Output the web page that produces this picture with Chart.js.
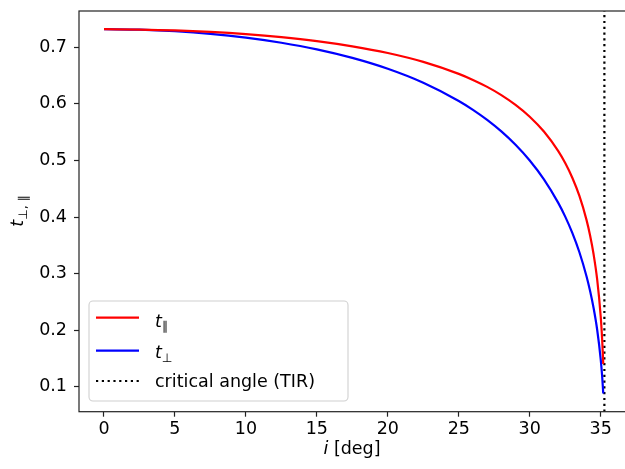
<!DOCTYPE html>
<html lang="en">
<head>
<meta charset="UTF-8">
<title>Transmission coefficients</title>
<script src="https://cdn.jsdelivr.net/npm/chart.js@4.4.0/dist/chart.umd.min.js"></script>
<style>
  html, body { margin: 0; padding: 0; overflow: hidden; background: #fff; }
  #wrap { position: absolute; left: 0; top: 0; width: 632px; height: 469px; }
</style>
</head>
<body>
<div id="wrap"><canvas id="chart" width="632" height="469"></canvas></div>
<script>
// incidence angle in degrees
const angles = [0, 2.5, 5, 7.5, 10, 12.5, 15, 17.5, 20, 22.5, 25, 26, 27, 28, 29, 30,
                31, 32, 32.5, 33, 33.5, 34, 34.25, 34.5, 34.75, 35, 35.1, 35.15, 35.18];
// transmission coefficients
const tPar  = [0.7321, 0.7315, 0.7300, 0.7273, 0.7234, 0.7181, 0.7111, 0.7019, 0.6900, 0.6743,
               0.6531, 0.6424, 0.6301, 0.6156, 0.5983, 0.5774, 0.5511, 0.5170, 0.4955, 0.4695,
               0.4373, 0.3950, 0.3678, 0.3342, 0.2900, 0.2245, 0.1849, 0.1585, 0.140];
const tPerp = [0.7321, 0.7312, 0.7285, 0.7239, 0.7172, 0.7082, 0.6965, 0.6814, 0.6622, 0.6375,
               0.6053, 0.5896, 0.5718, 0.5514, 0.5278, 0.5000, 0.4667, 0.4255, 0.4007, 0.3719,
               0.3377, 0.2954, 0.2696, 0.2391, 0.2011, 0.1489, 0.1195, 0.1007, 0.088];
const criticalAngle = 35.26;

const xTicks = [0, 5, 10, 15, 20, 25, 30, 35];
const yTicks = [0.1, 0.2, 0.3, 0.4, 0.5, 0.6, 0.7];
const xRange = [-1.76, 37.03];
const yRange = [0.0558, 0.7643];

const FONT = '"DejaVu Sans", sans-serif';
const FS = 17.5;
const INK = '#222';

function pts(ys) {
    return angles.map((a, i) => ({ x: a, y: ys[i] }));
}

// pieces of text: {t, italic, sub}
function partFont(p) {
    const s = p.sub ? FS * 0.7 : FS;
    return (p.italic ? 'italic ' : '') + s + 'px ' + FONT;
}
function richWidth(ctx, parts) {
    let w = 0;
    parts.forEach(p => { ctx.font = partFont(p); w += ctx.measureText(p.t).width; });
    return w;
}
function richText(ctx, x, y, parts) {
    let cx = x;
    parts.forEach(p => {
        ctx.font = partFont(p);
        ctx.fillText(p.t, cx, y + (p.sub ? FS * 0.22 : 0));
        cx += ctx.measureText(p.t).width;
    });
}

const legendItems = [
    { color: 'red',  dash: [], parts: [{ t: 't', italic: true }, { t: '\u2225', sub: true }] },
    { color: 'blue', dash: [], parts: [{ t: 't', italic: true }, { t: '\u22A5', sub: true }] },
    { color: 'black', dash: [2.2, 3.6], parts: [{ t: 'critical angle (TIR)' }] }
];

const decor = {
    id: 'decor',
    afterDraw(chart) {
        const ctx = chart.ctx;
        const a = chart.chartArea;
        ctx.save();
        // axes frame
        ctx.strokeStyle = INK;
        ctx.lineWidth = 1.2;
        ctx.strokeRect(a.left, a.top, a.right - a.left, a.bottom - a.top);

        ctx.fillStyle = '#000';
        ctx.textBaseline = 'alphabetic';
        ctx.textAlign = 'left';

        // x axis title
        const xl = [{ t: 'i', italic: true }, { t: ' [deg]' }];
        const xw = richWidth(ctx, xl);
        richText(ctx, 352 - xw / 2, 454, xl);

        // y axis title
        const yl = [{ t: 't', italic: true }, { t: '\u22A5, \u2225', sub: true }];
        const yw = richWidth(ctx, yl);
        ctx.save();
        ctx.translate(23, 211);
        ctx.rotate(-Math.PI / 2);
        richText(ctx, -yw / 2, 0, yl);
        ctx.restore();

        // legend
        ctx.beginPath();
        ctx.roundRect(89, 301, 259, 100, 4);
        ctx.fillStyle = 'rgba(255,255,255,0.8)';
        ctx.fill();
        ctx.strokeStyle = '#d0d0d0';
        ctx.lineWidth = 1.1;
        ctx.stroke();

        const rowLine = [317.7, 350.7, 381];
        const rowBase = [326.5, 358, 386.5];
        legendItems.forEach((it, i) => {
            ctx.beginPath();
            ctx.setLineDash(it.dash);
            ctx.strokeStyle = it.color;
            ctx.lineWidth = 2.2;
            ctx.moveTo(96, rowLine[i]);
            ctx.lineTo(139, rowLine[i]);
            ctx.stroke();
            ctx.setLineDash([]);
            ctx.fillStyle = '#000';
            richText(ctx, 155, rowBase[i], it.parts);
        });
        ctx.restore();
    }
};

const ctx = document.getElementById('chart').getContext('2d');
new Chart(ctx, {
    type: 'line',
    data: {
        datasets: [
            {
                label: 't\u2225',
                data: pts(tPar),
                borderColor: 'red',
                borderWidth: 2.2,
                pointRadius: 0,
                cubicInterpolationMode: 'monotone'
            },
            {
                label: 't\u22A5',
                data: pts(tPerp),
                borderColor: 'blue',
                borderWidth: 2.2,
                pointRadius: 0,
                cubicInterpolationMode: 'monotone'
            },
            {
                label: 'critical angle (TIR)',
                data: [{ x: criticalAngle, y: yRange[0] }, { x: criticalAngle, y: yRange[1] }],
                borderColor: 'black',
                borderWidth: 2.2,
                borderDash: [2.2, 3.6],
                pointRadius: 0
            }
        ]
    },
    options: {
        responsive: false,
        animation: false,
        layout: { padding: { top: 11, right: 2.5, left: 0, bottom: 0 } },
        plugins: { legend: { display: false }, tooltip: { enabled: false } },
        scales: {
            x: {
                type: 'linear',
                min: xRange[0],
                max: xRange[1],
                afterBuildTicks: s => { s.ticks = xTicks.map(v => ({ value: v })); },
                afterFit: s => { s.height = 57.3; s.paddingLeft = 0; s.paddingRight = 0; },
                grid: { drawOnChartArea: false, drawTicks: true, tickLength: 5, tickWidth: 1.2, tickColor: INK },
                border: { display: false },
                ticks: { color: '#000', font: { family: FONT, size: FS }, padding: 2, maxRotation: 0 }
            },
            y: {
                type: 'linear',
                min: yRange[0],
                max: yRange[1],
                afterBuildTicks: s => { s.ticks = yTicks.map(v => ({ value: v })); },
                afterFit: s => { s.width = 79; s.paddingTop = 0; s.paddingBottom = 0; },
                grid: { drawOnChartArea: false, drawTicks: true, tickLength: 5, tickWidth: 1.2, tickColor: INK },
                border: { display: false },
                ticks: { color: '#000', font: { family: FONT, size: FS }, padding: 7,
                         callback: v => v.toFixed(1) }
            }
        }
    },
    plugins: [decor]
});
</script>
</body>
</html>
